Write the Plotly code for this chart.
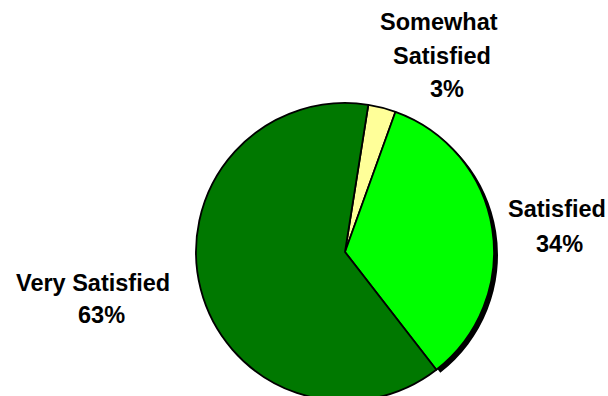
import plotly.graph_objects as go

# Survey satisfaction breakdown (percent of respondents)
categories = ["Somewhat Satisfied", "Satisfied", "Very Satisfied"]
shares = [3, 34, 63]
slice_colors = ["#FFFF99", "#00FF00", "#007800"]

# Page geometry (pixels)
W, H = 608, 410
CX, CY, R = 345, 252, 149          # pie centre (from top) and radius
SHADOW_DX, SHADOW_DY = 4, 3         # drop shadow offset of the "Satisfied" slice
START_ANGLE = 9                     # first slice starts this many degrees clockwise of 12 o'clock

# Label line centres (x, y from top) per category; the last entry is the percent line
label_pos = {
    "Somewhat Satisfied": [(439, 22), (441.5, 56), (447, 89)],
    "Satisfied": [(556.5, 209), (559.5, 244)],
    "Very Satisfied": [(92.5, 283), (101.5, 315)],
}


def domain(dx=0, dy=0):
    cx, cy = CX + dx, CY + dy
    return dict(
        x=[(cx - R) / W, (cx + R) / W],
        y=[(H - cy - R) / H, (H - cy + R) / H],
    )


shadow_colors = ["rgba(0,0,0,0)" if c != "Satisfied" else "#000000" for c in categories]

fig = go.Figure()
fig.add_trace(go.Pie(
    labels=categories, values=shares, sort=False, direction="clockwise",
    rotation=START_ANGLE, domain=domain(SHADOW_DX, SHADOW_DY),
    marker=dict(colors=shadow_colors, line=dict(width=0)),
    textinfo="none", hoverinfo="skip", showlegend=False,
))
fig.add_trace(go.Pie(
    labels=categories, values=shares, sort=False, direction="clockwise",
    rotation=START_ANGLE, domain=domain(),
    marker=dict(colors=slice_colors, line=dict(color="#000000", width=1.8)),
    textinfo="none", showlegend=False,
))

total = sum(shares)
font = dict(family="Liberation Sans, Arial, sans-serif", size=23.5, color="#000000", weight="bold")
for cat, val in zip(categories, shares):
    pos = label_pos[cat]
    n_name = len(pos) - 1
    lines = [cat] if n_name == 1 else cat.split(" ", n_name - 1)
    lines = lines + [f"{round(val / total * 100)}%"]
    for text, (x, y) in zip(lines, pos):
        fig.add_annotation(
            text=text, x=x / W, y=(H - y) / H, xref="paper", yref="paper",
            xanchor="center", yanchor="middle", showarrow=False, font=font,
        )

fig.update_layout(
    width=W, height=H, autosize=False,
    margin=dict(l=0, r=0, t=0, b=0),
    paper_bgcolor="#FFFFFF", plot_bgcolor="#FFFFFF",
)

fig.write_html(
    "out.html",
    post_script="document.documentElement.style.overflow='hidden';"
                "document.body.style.overflow='hidden';document.body.style.margin='0';",
)
